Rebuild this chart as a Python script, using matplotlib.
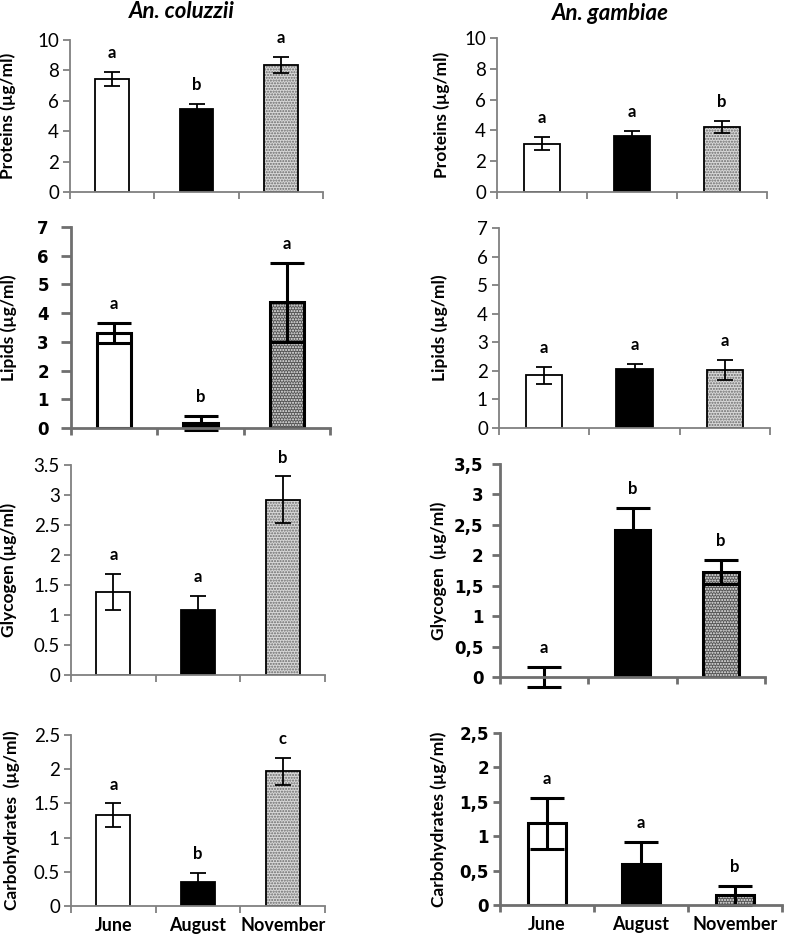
import matplotlib
matplotlib.use("Agg")
import matplotlib.pyplot as plt
import numpy as np

months = ["June", "August", "November"]
species = ["An. coluzzii", "An. gambiae"]

# values (µg/ml) and standard errors, order: June, August, November
prot_col = [7.43, 5.45, 8.35]
prot_col_err = [0.47, 0.35, 0.55]
prot_col_let = ["a", "b", "a"]
prot_gam = [3.14, 3.64, 4.22]
prot_gam_err = [0.43, 0.30, 0.37]
prot_gam_let = ["a", "a", "b"]

lip_col = [3.30, 0.18, 4.38]
lip_col_err = [0.35, 0.25, 1.37]
lip_col_let = ["a", "b", "a"]
lip_gam = [1.84, 2.05, 2.03]
lip_gam_err = [0.30, 0.20, 0.35]
lip_gam_let = ["a", "a", "a"]

gly_col = [1.38, 1.09, 2.92]
gly_col_err = [0.30, 0.23, 0.39]
gly_col_let = ["a", "a", "b"]
gly_gam = [0.0, 2.41, 1.73]
gly_gam_err = [0.16, 0.37, 0.20]
gly_gam_let = ["a", "b", "b"]

carb_col = [1.33, 0.35, 1.97]
carb_col_err = [0.17, 0.13, 0.20]
carb_col_let = ["a", "b", "c"]
carb_gam = [1.19, 0.60, 0.14]
carb_gam_err = [0.37, 0.32, 0.14]
carb_gam_let = ["a", "a", "b"]

prot_ticks = [0, 2, 4, 6, 8, 10]
lip_ticks = [0, 1, 2, 3, 4, 5, 6, 7]
gly_ticks = [0, 0.5, 1, 1.5, 2, 2.5, 3, 3.5]
carb_ticks = [0, 0.5, 1, 1.5, 2, 2.5]

W, H = 787, 934
fig = plt.figure(figsize=(W / 100, H / 100), dpi=100)

def ax_px(l, r, t, b):
    return fig.add_axes([l / W, 1 - b / H, (r - l) / W, (b - t) / H])

panels = [
    # (px box, vals, errs, letters, ticks, ylabel, bold style, comma, bottom row,
    #  ylabel offset px, y tick length, y tick pad)
    ((70, 323, 40, 192), prot_col, prot_col_err, prot_col_let, prot_ticks, "Proteins (µg/ml)", False, False, False, 54, 5, 3),
    ((497, 767, 38, 192), prot_gam, prot_gam_err, prot_gam_let, prot_ticks, "Proteins (µg/ml)", False, False, False, 47, 5, 3),
    ((71, 330, 227, 428), lip_col, lip_col_err, lip_col_let, lip_ticks, "Lipids (µg/ml)", True, False, False, 54, 7, 9),
    ((499, 770, 228, 428), lip_gam, lip_gam_err, lip_gam_let, lip_ticks, "Lipids (µg/ml)", False, False, False, 51, 5, 3),
    ((71, 325, 465, 675), gly_col, gly_col_err, gly_col_let, gly_ticks, "Glycogen (µg/ml)", False, False, False, 54, 5, 3),
    ((500, 765, 464, 677), gly_gam, gly_gam_err, gly_gam_let, gly_ticks, "Glycogen  (µg/ml)", True, True, False, 53, 6, 6),
    ((71, 325, 735, 906), carb_col, carb_col_err, carb_col_let, carb_ticks, "Carbohydrates  (µg/ml)", False, False, True, 51, 5, 3),
    ((500, 782, 733, 905), carb_gam, carb_gam_err, carb_gam_let, carb_ticks, "Carbohydrates (µg/ml)", True, True, True, 53, 5, 3),
]

main_font = "Lato"
wide_font = "DejaVu Sans"

for box, vals, errs, lets, ticks, ylab, bold, comma, bottom, yoff, tlen, tpad in panels:
    ax = ax_px(*box)
    x = np.arange(len(months))
    lw_bar = 2.2 if bold else 1.3
    lw_err = 2.2 if bold else 1.3
    cap = 12 if bold else 6
    nov_face = "#555555" if bold else "#d8d8d8"
    nov_hatch = "#f0f0f0" if bold else "#6a6a6a"
    faces = ["white", "black", nov_face]
    for i in range(len(months)):
        if i == 2:
            ax.bar(x[i], vals[i], width=0.4, color=faces[i], edgecolor=nov_hatch,
                   hatch="......", linewidth=0, zorder=2)
            ax.bar(x[i], vals[i], width=0.4, color="none", edgecolor="black",
                   linewidth=lw_bar, zorder=3)
        else:
            if vals[i] > 0:
                ax.bar(x[i], vals[i], width=0.4, color=faces[i], edgecolor="black",
                       linewidth=lw_bar, zorder=3)
    eb = ax.errorbar(x, vals, yerr=errs, fmt="none", ecolor="black", elinewidth=lw_err,
                     capsize=cap, capthick=lw_err, zorder=4)
    for art in eb.get_children():
        art.set_clip_on(False)
    for i in range(len(months)):
        ax.annotate(lets[i], (x[i], vals[i] + errs[i]), xytext=(0, 10),
                    textcoords="offset points", ha="center", va="baseline",
                    fontsize=12, fontweight="bold", family=main_font)
    ax.set_xlim(-0.5, 2.5)
    ax.set_ylim(ticks[0], ticks[-1])
    ax.set_yticks(ticks)
    if comma:
        labs = [("%g" % t).replace(".", ",") for t in ticks]
    else:
        labs = ["%g" % t for t in ticks]
    if bold:
        ax.set_yticklabels(labs, family=wide_font, fontweight="bold", fontsize=12)
    else:
        ax.set_yticklabels(labs, family=main_font, fontsize=13.5)
    ax.set_xticks([-0.5, 0.5, 1.5, 2.5])
    ax.set_xticklabels([])
    ax.set_xticks(x, minor=True)
    if bottom:
        ax.set_xticklabels(months, minor=True, family=main_font, fontweight="bold", fontsize=13)
    ax.tick_params(axis="x", which="minor", length=0, pad=8)
    spine_c = "#6f6f6f" if bold else "#808080"
    spine_w = 2.0 if bold else 1.3
    ax.tick_params(axis="x", which="major", direction="out", length=5,
                   width=spine_w, color=spine_c)
    ax.tick_params(axis="y", which="major", direction="out", length=tlen,
                   width=spine_w, color=spine_c, pad=tpad)
    for s in ["top", "right"]:
        ax.spines[s].set_visible(False)
    for s in ["left", "bottom"]:
        ax.spines[s].set_color(spine_c)
        ax.spines[s].set_linewidth(spine_w)
        ax.spines[s].set_zorder(5)
    ax.set_ylabel(ylab, family=main_font, fontweight="bold", fontsize=12.5)
    ax.yaxis.set_label_coords(-yoff / (box[1] - box[0]), 0.5)
    ax.patch.set_alpha(0)

fig.text(182 / W, 1 - 11 / H, species[0], family=main_font, fontweight="bold",
         style="italic", fontsize=16, ha="center", va="center")
fig.text(610 / W, 1 - 14 / H, species[1], family=main_font, fontweight="bold",
         style="italic", fontsize=16, ha="center", va="center")

fig.savefig("out.png", dpi=100)
